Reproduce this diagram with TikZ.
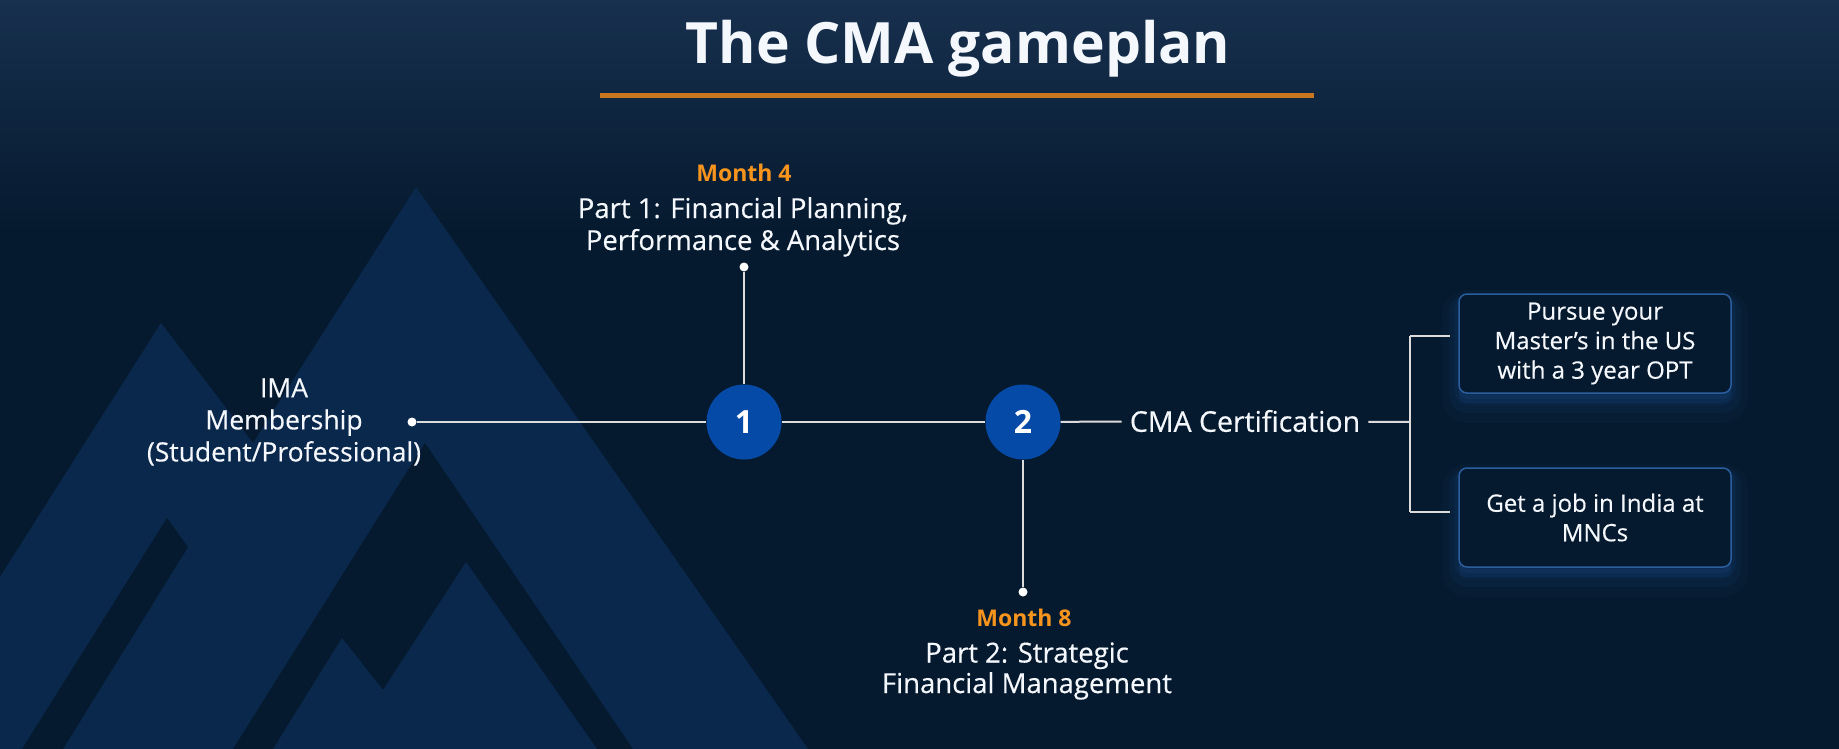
\documentclass[tikz,border=0pt]{standalone}
\usepackage{fontspec}
\setmainfont{Open Sans}
\newfontfamily\bodyfont{Open Sans}[FakeBold=0.4]
\definecolor{bgdark}{HTML}{061A2F}
\definecolor{bgtop}{HTML}{17304E}
\definecolor{mtn}{HTML}{0A284C}
\definecolor{circ}{HTML}{064AA8}
\definecolor{orangeline}{HTML}{C8761F}
\definecolor{monthc}{HTML}{F7941D}
\definecolor{linec}{HTML}{DCDCDC}
\definecolor{boxborder}{HTML}{2B5E9E}
\definecolor{glowc}{HTML}{1D4F8E}
\definecolor{txt}{HTML}{F4F7FC}
\begin{document}
\begin{tikzpicture}[x=1pt,y=-1pt,
  conn/.style={draw=linec, line width=2pt},
  dotn/.style={circle, fill=white, minimum size=9pt, inner sep=0pt},
  num/.style={circle, fill=circ, minimum size=75pt, inner sep=0pt, text=white, font=\bfseries\fontsize{32}{32}\selectfont},
  lbl/.style={text=txt, align=center, inner sep=0pt, font=\bodyfont\fontsize{26.5}{32}\selectfont},
  part/.style={text=txt, align=center, inner sep=0pt, font=\bodyfont\fontsize{27.5}{32}\selectfont},
  month/.style={text=monthc, inner sep=0pt, font=\bfseries\fontsize{23}{28}\selectfont},
  boxn/.style={draw=boxborder, line width=1.5pt, fill=bgdark, rounded corners=8pt, minimum width=272pt, minimum height=99pt,
    text=txt, align=center, inner sep=0pt, font=\bodyfont\fontsize{24}{29.5}\selectfont,
    preaction={draw=glowc, fill=glowc, line width=34pt, line join=round, opacity=0.06, transform canvas={yshift=-13pt}},
    preaction={draw=glowc, fill=glowc, line width=20pt, line join=round, opacity=0.09, transform canvas={yshift=-10pt}},
    preaction={draw=glowc, fill=glowc, line width=9pt, line join=round, opacity=0.14, transform canvas={yshift=-6pt}}},
  titlen/.style={text=txt, inner sep=0pt, font=\bfseries\fontsize{57}{60}\selectfont}
]
\useasboundingbox (0,0) rectangle (1839,749);
% background
\fill[bgdark] (0,0) rectangle (1839,749);
\shade[top color=bgtop, bottom color=bgdark] (0,0) rectangle (1839,230);
% mountains
\fill[mtn] (0,577) -- (161,323) -- (253,443) -- (416,187) -- (808,749) -- (0,749) -- cycle;
\fill[bgdark] (167,518) -- (188,547) -- (63,749) -- (22,749) -- cycle;
\fill[bgdark] (425,443) -- (633,749) -- (233,749) -- cycle;
\fill[mtn] (273,749) -- (342,638) -- (383,690) -- (466,562) -- (597,749) -- cycle;
% title
\node[titlen, anchor=base] (title) at (958,64) {The CMA gameplan};
\draw[orangeline, line width=5pt] (600,95.5) -- (1314,95.5);
% timeline nodes
\node[dotn] (d0) at (412,422) {};
\node[num] (c1) at (744,422) {1};
\node[num] (c2) at (1023,422) {2};
\node[dotn] (d1) at (744,267) {};
\node[dotn] (d2) at (1023,592) {};
\node[lbl] (ima) at (284,422) {IMA\\Membership\\(Student/Professional)};
\node[month, anchor=base] (m4) at (744,182) {Month 4};
\node[part, anchor=base] (p1) at (743,250) {Part 1: Financial Planning,\\Performance \& Analytics};
\node[month, anchor=base] (m8) at (1024,626) {Month 8};
\node[part, anchor=base, font=\bodyfont\fontsize{27.5}{30.5}\selectfont] (p2) at (1027,693) {Part 2: Strategic\\Financial Management};
\node[part, inner xsep=8pt, font=\bodyfont\fontsize{28.5}{32}\selectfont] (cma) at (1245,421) {CMA Certification};
\node[boxn] (b1) at (1595,343.5) {Pursue your\\Master’s in the US\\with a 3 year OPT};
\node[boxn] (b2) at (1595,517.5) {Get a job in India at\\MNCs};
\coordinate (br) at (1410,422);
\coordinate (bt) at (1410,336);
\coordinate (bb) at (1410,512);
% connectors
\draw[conn] (d0) -- (c1);
\draw[conn] (c1) -- (c2);
\draw[conn] (c2) -- (cma);
\draw[conn] (c1) -- (d1);
\draw[conn] (c2) -- (d2);
\draw[conn] (cma) -- (br);
\draw[conn] (bt) -- (bb);
\draw[conn, shorten >=8pt] (bt) -- (bt -| b1.west);
\draw[conn, shorten >=8pt] (bb) -- (bb -| b2.west);
\end{tikzpicture}
\end{document}
